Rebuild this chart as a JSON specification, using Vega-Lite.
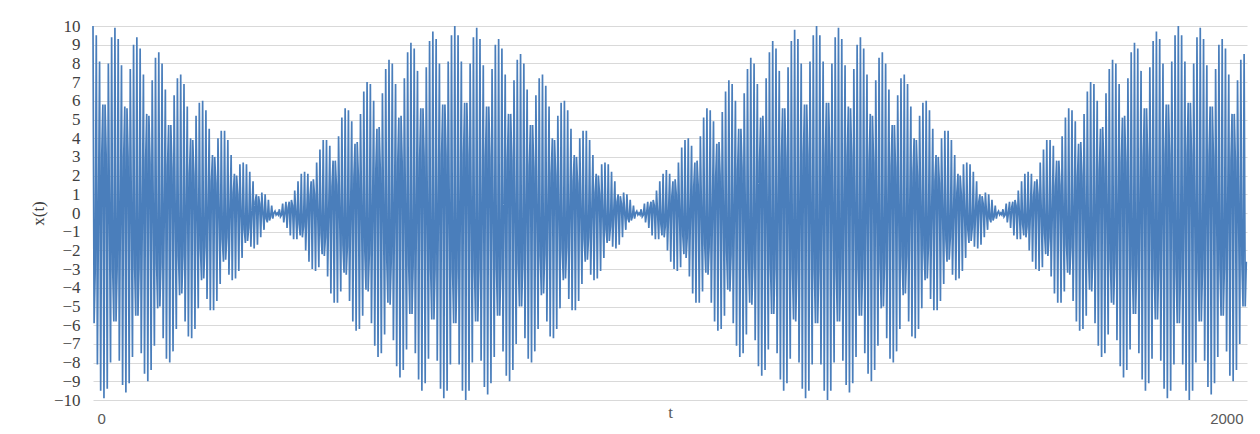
{"$schema":"https://vega.github.io/schema/vega-lite/v6.json","width":1154,"height":374,"autosize":{"type":"none"},"padding":{"left":93,"top":26,"right":13,"bottom":34},"background":"#ffffff","config":{"view":{"stroke":null}},
"data":{"values":[
{"t":0,"x":10},{"t":1.9,"x":-5.9},{"t":3.8,"x":-3.1},{"t":5.7,"x":9.5},{"t":7.6,"x":-8.1},{"t":9.5,"x":0},{"t":11.4,"x":8.1},{"t":13.3,"x":-9.5},{"t":15.2,"x":3.1},{"t":17.1,"x":5.8},{"t":19,"x":-9.9},{"t":20.9,"x":5.8},{"t":22.8,"x":3.1},{"t":24.7,"x":-9.4},{"t":26.6,"x":8},{"t":28.5,"x":0},{"t":30.4,"x":-8},{"t":32.3,"x":9.4},{"t":34.2,"x":-3.1},{"t":36.1,"x":-5.8},
{"t":38,"x":9.9},{"t":39.9,"x":-5.8},{"t":41.8,"x":-3},{"t":43.7,"x":9.3},{"t":45.6,"x":-7.9},{"t":47.5,"x":0},{"t":49.4,"x":7.9},{"t":51.3,"x":-9.2},{"t":53.2,"x":3},{"t":55.1,"x":5.7},{"t":57,"x":-9.6},{"t":58.9,"x":5.6},{"t":60.8,"x":3},{"t":62.7,"x":-9.1},{"t":64.6,"x":7.7},{"t":66.5,"x":0},{"t":68.4,"x":-7.7},{"t":70.3,"x":9},{"t":72.2,"x":-2.9},{"t":74.1,"x":-5.5},
{"t":76,"x":9.4},{"t":77.9,"x":-5.5},{"t":79.8,"x":-2.9},{"t":81.7,"x":8.8},{"t":83.6,"x":-7.5},{"t":85.5,"x":0},{"t":87.4,"x":7.4},{"t":89.3,"x":-8.6},{"t":91.2,"x":2.8},{"t":93.1,"x":5.3},{"t":95,"x":-9},{"t":96.9,"x":5.2},{"t":98.8,"x":2.7},{"t":100.7,"x":-8.4},{"t":102.6,"x":7.1},{"t":104.5,"x":0},{"t":106.4,"x":-7.1},{"t":108.3,"x":8.3},{"t":110.2,"x":-2.7},{"t":112.1,"x":-5.1},
{"t":114,"x":8.6},{"t":115.9,"x":-5},{"t":117.8,"x":-2.6},{"t":119.7,"x":8},{"t":121.6,"x":-6.7},{"t":123.5,"x":0},{"t":125.4,"x":6.6},{"t":127.3,"x":-7.8},{"t":129.2,"x":2.5},{"t":131.1,"x":4.7},{"t":133,"x":-8},{"t":134.9,"x":4.7},{"t":136.8,"x":2.4},{"t":138.7,"x":-7.4},{"t":140.6,"x":6.3},{"t":142.5,"x":0},{"t":144.4,"x":-6.2},{"t":146.3,"x":7.2},{"t":148.2,"x":-2.3},{"t":150.1,"x":-4.4},
{"t":152,"x":7.4},{"t":153.9,"x":-4.3},{"t":155.8,"x":-2.3},{"t":157.7,"x":6.9},{"t":159.6,"x":-5.8},{"t":161.5,"x":0},{"t":163.4,"x":5.7},{"t":165.3,"x":-6.6},{"t":167.2,"x":2.1},{"t":169.1,"x":4},{"t":171,"x":-6.7},{"t":172.9,"x":3.9},{"t":174.8,"x":2},{"t":176.7,"x":-6.2},{"t":178.6,"x":5.2},{"t":180.5,"x":0},{"t":182.4,"x":-5.1},{"t":184.3,"x":5.9},{"t":186.2,"x":-1.9},{"t":188.1,"x":-3.6},
{"t":190,"x":6},{"t":191.9,"x":-3.5},{"t":193.8,"x":-1.8},{"t":195.7,"x":5.5},{"t":197.6,"x":-4.6},{"t":199.5,"x":0},{"t":201.4,"x":4.5},{"t":203.3,"x":-5.2},{"t":205.2,"x":1.7},{"t":207.1,"x":3.1},{"t":209,"x":-5.2},{"t":210.9,"x":3},{"t":212.8,"x":1.6},{"t":214.7,"x":-4.7},{"t":216.6,"x":4},{"t":218.5,"x":0},{"t":220.4,"x":-3.8},{"t":222.3,"x":4.4},{"t":224.2,"x":-1.4},{"t":226.1,"x":-2.6},
{"t":228,"x":4.4},{"t":229.9,"x":-2.5},{"t":231.8,"x":-1.3},{"t":233.7,"x":3.9},{"t":235.6,"x":-3.3},{"t":237.5,"x":0},{"t":239.4,"x":3.1},{"t":241.3,"x":-3.6},{"t":243.2,"x":1.1},{"t":245.1,"x":2.1},{"t":247,"x":-3.5},{"t":248.9,"x":2},{"t":250.8,"x":1},{"t":252.7,"x":-3.1},{"t":254.6,"x":2.6},{"t":256.5,"x":0},{"t":258.4,"x":-2.4},{"t":260.3,"x":2.7},{"t":262.2,"x":-0.9},{"t":264.1,"x":-1.6},
{"t":266,"x":2.6},{"t":267.9,"x":-1.5},{"t":269.8,"x":-0.8},{"t":271.7,"x":2.2},{"t":273.6,"x":-1.8},{"t":275.5,"x":0},{"t":277.4,"x":1.7},{"t":279.3,"x":-1.9},{"t":281.2,"x":0.6},{"t":283.1,"x":1},{"t":285,"x":-1.7},{"t":286.9,"x":0.9},{"t":288.8,"x":0.5},{"t":290.7,"x":-1.3},{"t":292.6,"x":1.1},{"t":294.5,"x":0},{"t":296.4,"x":-0.9},{"t":298.3,"x":1},{"t":300.2,"x":-0.3},{"t":302.1,"x":-0.5},
{"t":304,"x":0.7},{"t":305.9,"x":-0.4},{"t":307.8,"x":-0.2},{"t":309.7,"x":0.4},{"t":311.6,"x":-0.3},{"t":313.5,"x":0},{"t":315.4,"x":0.1},{"t":317.3,"x":-0.1},{"t":319.2,"x":0},{"t":321.1,"x":-0.1},{"t":323,"x":0.2},{"t":324.9,"x":-0.2},{"t":326.8,"x":-0.1},{"t":328.7,"x":0.5},{"t":330.6,"x":-0.5},{"t":332.5,"x":0},{"t":334.4,"x":0.6},{"t":336.3,"x":-0.8},{"t":338.2,"x":0.3},{"t":340.1,"x":0.6},
{"t":342,"x":-1.2},{"t":343.9,"x":0.7},{"t":345.8,"x":0.4},{"t":347.7,"x":-1.4},{"t":349.6,"x":1.2},{"t":351.5,"x":0},{"t":353.4,"x":-1.4},{"t":355.3,"x":1.7},{"t":357.2,"x":-0.6},{"t":359.1,"x":-1.2},{"t":361,"x":2.1},{"t":362.9,"x":-1.3},{"t":364.8,"x":-0.7},{"t":366.7,"x":2.2},{"t":368.6,"x":-2},{"t":370.5,"x":0},{"t":372.4,"x":2.1},{"t":374.3,"x":-2.6},{"t":376.2,"x":0.9},{"t":378.1,"x":1.7},
{"t":380,"x":-3},{"t":381.9,"x":1.8},{"t":383.8,"x":1},{"t":385.7,"x":-3.1},{"t":387.6,"x":2.7},{"t":389.5,"x":0},{"t":391.4,"x":-2.9},{"t":393.3,"x":3.4},{"t":395.2,"x":-1.1},{"t":397.1,"x":-2.2},{"t":399,"x":3.9},{"t":400.9,"x":-2.3},{"t":402.8,"x":-1.3},{"t":404.7,"x":3.9},{"t":406.6,"x":-3.4},{"t":408.5,"x":0},{"t":410.4,"x":3.6},{"t":412.3,"x":-4.3},{"t":414.2,"x":1.4},{"t":416.1,"x":2.8},
{"t":418,"x":-4.8},{"t":419.9,"x":2.8},{"t":421.8,"x":1.5},{"t":423.7,"x":-4.8},{"t":425.6,"x":4.1},{"t":427.5,"x":0},{"t":429.4,"x":-4.2},{"t":431.3,"x":5.1},{"t":433.2,"x":-1.7},{"t":435.1,"x":-3.2},{"t":437,"x":5.6},{"t":438.9,"x":-3.3},{"t":440.8,"x":-1.8},{"t":442.7,"x":5.5},{"t":444.6,"x":-4.7},{"t":446.5,"x":0},{"t":448.4,"x":4.9},{"t":450.3,"x":-5.8},{"t":452.2,"x":1.9},{"t":454.1,"x":3.7},
{"t":456,"x":-6.3},{"t":457.9,"x":3.8},{"t":459.8,"x":2},{"t":461.7,"x":-6.2},{"t":463.6,"x":5.3},{"t":465.5,"x":0},{"t":467.4,"x":-5.5},{"t":469.3,"x":6.5},{"t":471.2,"x":-2.1},{"t":473.1,"x":-4.1},{"t":475,"x":7},{"t":476.9,"x":-4.2},{"t":478.8,"x":-2.2},{"t":480.7,"x":6.9},{"t":482.6,"x":-5.9},{"t":484.5,"x":0},{"t":486.4,"x":6},{"t":488.3,"x":-7.1},{"t":490.2,"x":2.3},{"t":492.1,"x":4.5},
{"t":494,"x":-7.7},{"t":495.9,"x":4.6},{"t":497.8,"x":2.4},{"t":499.7,"x":-7.5},{"t":501.6,"x":6.4},{"t":503.5,"x":0},{"t":505.4,"x":-6.5},{"t":507.3,"x":7.7},{"t":509.2,"x":-2.5},{"t":511.1,"x":-4.8},{"t":513,"x":8.2},{"t":514.9,"x":-4.9},{"t":516.8,"x":-2.6},{"t":518.7,"x":8},{"t":520.6,"x":-6.8},{"t":522.5,"x":0},{"t":524.4,"x":6.9},{"t":526.3,"x":-8.2},{"t":528.2,"x":2.7},{"t":530.1,"x":5.1},
{"t":532,"x":-8.8},{"t":533.9,"x":5.2},{"t":535.8,"x":2.7},{"t":537.7,"x":-8.4},{"t":539.6,"x":7.2},{"t":541.5,"x":0},{"t":543.4,"x":-7.3},{"t":545.3,"x":8.6},{"t":547.2,"x":-2.8},{"t":549.1,"x":-5.4},{"t":551,"x":9.1},{"t":552.9,"x":-5.4},{"t":554.8,"x":-2.8},{"t":556.7,"x":8.8},{"t":558.6,"x":-7.5},{"t":560.5,"x":0},{"t":562.4,"x":7.6},{"t":564.3,"x":-8.9},{"t":566.2,"x":2.9},{"t":568.1,"x":5.6},
{"t":570,"x":-9.5},{"t":571.9,"x":5.6},{"t":573.8,"x":3},{"t":575.7,"x":-9.1},{"t":577.6,"x":7.8},{"t":579.5,"x":0},{"t":581.4,"x":-7.8},{"t":583.3,"x":9.2},{"t":585.2,"x":-3},{"t":587.1,"x":-5.7},{"t":589,"x":9.7},{"t":590.9,"x":-5.7},{"t":592.8,"x":-3},{"t":594.7,"x":9.3},{"t":596.6,"x":-7.9},{"t":598.5,"x":0},{"t":600.4,"x":8},{"t":602.3,"x":-9.4},{"t":604.2,"x":3.1},{"t":606.1,"x":5.8},
{"t":608,"x":-9.9},{"t":609.9,"x":5.8},{"t":611.8,"x":3.1},{"t":613.7,"x":-9.5},{"t":615.6,"x":8.1},{"t":617.5,"x":0},{"t":619.4,"x":-8.1},{"t":621.3,"x":9.5},{"t":623.2,"x":-3.1},{"t":625.1,"x":-5.9},{"t":627,"x":10},{"t":628.9,"x":-5.9},{"t":630.8,"x":-3.1},{"t":632.7,"x":9.5},{"t":634.6,"x":-8.1},{"t":636.5,"x":0},{"t":638.4,"x":8.1},{"t":640.3,"x":-9.5},{"t":642.2,"x":3.1},{"t":644.1,"x":5.9},
{"t":646,"x":-10},{"t":647.9,"x":5.9},{"t":649.8,"x":3.1},{"t":651.7,"x":-9.5},{"t":653.6,"x":8},{"t":655.5,"x":0},{"t":657.4,"x":-8},{"t":659.3,"x":9.4},{"t":661.2,"x":-3.1},{"t":663.1,"x":-5.8},{"t":665,"x":9.9},{"t":666.9,"x":-5.8},{"t":668.8,"x":-3},{"t":670.7,"x":9.3},{"t":672.6,"x":-7.9},{"t":674.5,"x":0},{"t":676.4,"x":7.9},{"t":678.3,"x":-9.3},{"t":680.2,"x":3},{"t":682.1,"x":5.7},
{"t":684,"x":-9.7},{"t":685.9,"x":5.7},{"t":687.8,"x":3},{"t":689.7,"x":-9.1},{"t":691.6,"x":7.7},{"t":693.5,"x":0},{"t":695.4,"x":-7.7},{"t":697.3,"x":9},{"t":699.2,"x":-2.9},{"t":701.1,"x":-5.5},{"t":703,"x":9.3},{"t":704.9,"x":-5.5},{"t":706.8,"x":-2.9},{"t":708.7,"x":8.8},{"t":710.6,"x":-7.4},{"t":712.5,"x":0},{"t":714.4,"x":7.4},{"t":716.3,"x":-8.7},{"t":718.2,"x":2.8},{"t":720.1,"x":5.3},
{"t":722,"x":-9},{"t":723.9,"x":5.3},{"t":725.8,"x":2.8},{"t":727.7,"x":-8.4},{"t":729.6,"x":7.1},{"t":731.5,"x":0},{"t":733.4,"x":-7},{"t":735.3,"x":8.2},{"t":737.2,"x":-2.7},{"t":739.1,"x":-5},{"t":741,"x":8.5},{"t":742.9,"x":-5},{"t":744.8,"x":-2.6},{"t":746.7,"x":8},{"t":748.6,"x":-6.7},{"t":750.5,"x":0},{"t":752.4,"x":6.6},{"t":754.3,"x":-7.8},{"t":756.2,"x":2.5},{"t":758.1,"x":4.7},
{"t":760,"x":-8},{"t":761.9,"x":4.7},{"t":763.8,"x":2.4},{"t":765.7,"x":-7.4},{"t":767.6,"x":6.3},{"t":769.5,"x":0},{"t":771.4,"x":-6.2},{"t":773.3,"x":7.2},{"t":775.2,"x":-2.3},{"t":777.1,"x":-4.4},{"t":779,"x":7.4},{"t":780.9,"x":-4.3},{"t":782.8,"x":-2.2},{"t":784.7,"x":6.8},{"t":786.6,"x":-5.8},{"t":788.5,"x":0},{"t":790.4,"x":5.7},{"t":792.3,"x":-6.6},{"t":794.2,"x":2.1},{"t":796.1,"x":4},
{"t":798,"x":-6.7},{"t":799.9,"x":3.9},{"t":801.8,"x":2},{"t":803.7,"x":-6.2},{"t":805.6,"x":5.2},{"t":807.5,"x":0},{"t":809.4,"x":-5.1},{"t":811.3,"x":5.9},{"t":813.2,"x":-1.9},{"t":815.1,"x":-3.6},{"t":817,"x":6},{"t":818.9,"x":-3.5},{"t":820.8,"x":-1.8},{"t":822.7,"x":5.5},{"t":824.6,"x":-4.6},{"t":826.5,"x":0},{"t":828.4,"x":4.5},{"t":830.3,"x":-5.2},{"t":832.2,"x":1.7},{"t":834.1,"x":3.1},
{"t":836,"x":-5.2},{"t":837.9,"x":3},{"t":839.8,"x":1.6},{"t":841.7,"x":-4.7},{"t":843.6,"x":4},{"t":845.5,"x":0},{"t":847.4,"x":-3.8},{"t":849.3,"x":4.4},{"t":851.2,"x":-1.4},{"t":853.1,"x":-2.6},{"t":855,"x":4.4},{"t":856.9,"x":-2.5},{"t":858.8,"x":-1.3},{"t":860.7,"x":3.9},{"t":862.6,"x":-3.3},{"t":864.5,"x":0},{"t":866.4,"x":3.1},{"t":868.3,"x":-3.6},{"t":870.2,"x":1.1},{"t":872.1,"x":2.1},
{"t":874,"x":-3.5},{"t":875.9,"x":2},{"t":877.8,"x":1},{"t":879.7,"x":-3.1},{"t":881.6,"x":2.6},{"t":883.5,"x":0},{"t":885.4,"x":-2.4},{"t":887.3,"x":2.7},{"t":889.2,"x":-0.9},{"t":891.1,"x":-1.6},{"t":893,"x":2.6},{"t":894.9,"x":-1.5},{"t":896.8,"x":-0.7},{"t":898.7,"x":2.2},{"t":900.6,"x":-1.8},{"t":902.5,"x":0},{"t":904.4,"x":1.7},{"t":906.3,"x":-1.9},{"t":908.2,"x":0.6},{"t":910.1,"x":1},
{"t":912,"x":-1.7},{"t":913.9,"x":0.9},{"t":915.8,"x":0.5},{"t":917.7,"x":-1.3},{"t":919.6,"x":1.1},{"t":921.5,"x":0},{"t":923.4,"x":-0.9},{"t":925.3,"x":1},{"t":927.2,"x":-0.3},{"t":929.1,"x":-0.5},{"t":931,"x":0.7},{"t":932.9,"x":-0.4},{"t":934.8,"x":-0.2},{"t":936.7,"x":0.4},{"t":938.6,"x":-0.3},{"t":940.5,"x":0},{"t":942.4,"x":0.1},{"t":944.3,"x":-0.1},{"t":946.2,"x":0},{"t":948.1,"x":-0.1},
{"t":950,"x":0.2},{"t":951.9,"x":-0.2},{"t":953.8,"x":-0.1},{"t":955.7,"x":0.5},{"t":957.6,"x":-0.5},{"t":959.5,"x":0},{"t":961.4,"x":0.6},{"t":963.3,"x":-0.8},{"t":965.2,"x":0.3},{"t":967.1,"x":0.6},{"t":969,"x":-1.2},{"t":970.9,"x":0.7},{"t":972.8,"x":0.4},{"t":974.7,"x":-1.4},{"t":976.6,"x":1.2},{"t":978.5,"x":0},{"t":980.4,"x":-1.4},{"t":982.3,"x":1.7},{"t":984.2,"x":-0.6},{"t":986.1,"x":-1.2},
{"t":988,"x":2.1},{"t":989.9,"x":-1.3},{"t":991.8,"x":-0.7},{"t":993.7,"x":2.3},{"t":995.6,"x":-2},{"t":997.5,"x":0},{"t":999.4,"x":2.1},{"t":1001.3,"x":-2.6},{"t":1003.2,"x":0.9},{"t":1005.1,"x":1.7},{"t":1007,"x":-3},{"t":1008.9,"x":1.8},{"t":1010.8,"x":1},{"t":1012.7,"x":-3.1},{"t":1014.6,"x":2.7},{"t":1016.5,"x":0},{"t":1018.4,"x":-2.9},{"t":1020.3,"x":3.5},{"t":1022.2,"x":-1.2},{"t":1024.1,"x":-2.2},
{"t":1026,"x":3.9},{"t":1027.9,"x":-2.4},{"t":1029.8,"x":-1.3},{"t":1031.7,"x":4},{"t":1033.6,"x":-3.4},{"t":1035.5,"x":0},{"t":1037.4,"x":3.6},{"t":1039.3,"x":-4.3},{"t":1041.2,"x":1.4},{"t":1043.1,"x":2.7},{"t":1045,"x":-4.8},{"t":1046.9,"x":2.8},{"t":1048.8,"x":1.5},{"t":1050.7,"x":-4.8},{"t":1052.6,"x":4.1},{"t":1054.5,"x":0},{"t":1056.4,"x":-4.2},{"t":1058.3,"x":5.1},{"t":1060.2,"x":-1.7},{"t":1062.1,"x":-3.2},
{"t":1064,"x":5.6},{"t":1065.9,"x":-3.3},{"t":1067.8,"x":-1.8},{"t":1069.7,"x":5.5},{"t":1071.6,"x":-4.8},{"t":1073.5,"x":0},{"t":1075.4,"x":4.9},{"t":1077.3,"x":-5.8},{"t":1079.2,"x":1.9},{"t":1081.1,"x":3.7},{"t":1083,"x":-6.3},{"t":1084.9,"x":3.8},{"t":1086.8,"x":2},{"t":1088.7,"x":-6.2},{"t":1090.6,"x":5.4},{"t":1092.5,"x":0},{"t":1094.4,"x":-5.5},{"t":1096.3,"x":6.5},{"t":1098.2,"x":-2.1},{"t":1100.1,"x":-4.1},
{"t":1102,"x":7.1},{"t":1103.9,"x":-4.2},{"t":1105.8,"x":-2.2},{"t":1107.7,"x":6.9},{"t":1109.6,"x":-5.9},{"t":1111.5,"x":0},{"t":1113.4,"x":6},{"t":1115.3,"x":-7.1},{"t":1117.2,"x":2.3},{"t":1119.1,"x":4.5},{"t":1121,"x":-7.7},{"t":1122.9,"x":4.5},{"t":1124.8,"x":2.4},{"t":1126.7,"x":-7.5},{"t":1128.6,"x":6.4},{"t":1130.5,"x":0},{"t":1132.4,"x":-6.5},{"t":1134.3,"x":7.7},{"t":1136.2,"x":-2.5},{"t":1138.1,"x":-4.8},
{"t":1140,"x":8.3},{"t":1141.9,"x":-4.9},{"t":1143.8,"x":-2.6},{"t":1145.7,"x":8},{"t":1147.6,"x":-6.8},{"t":1149.5,"x":0},{"t":1151.4,"x":6.9},{"t":1153.3,"x":-8.2},{"t":1155.2,"x":2.7},{"t":1157.1,"x":5.1},{"t":1159,"x":-8.7},{"t":1160.9,"x":5.2},{"t":1162.8,"x":2.7},{"t":1164.7,"x":-8.4},{"t":1166.6,"x":7.2},{"t":1168.5,"x":0},{"t":1170.4,"x":-7.3},{"t":1172.3,"x":8.6},{"t":1174.2,"x":-2.8},{"t":1176.1,"x":-5.4},
{"t":1178,"x":9.2},{"t":1179.9,"x":-5.4},{"t":1181.8,"x":-2.9},{"t":1183.7,"x":8.8},{"t":1185.6,"x":-7.5},{"t":1187.5,"x":0},{"t":1189.4,"x":7.6},{"t":1191.3,"x":-8.9},{"t":1193.2,"x":2.9},{"t":1195.1,"x":5.6},{"t":1197,"x":-9.5},{"t":1198.9,"x":5.6},{"t":1200.8,"x":2.9},{"t":1202.7,"x":-9.1},{"t":1204.6,"x":7.8},{"t":1206.5,"x":0},{"t":1208.4,"x":-7.8},{"t":1210.3,"x":9.2},{"t":1212.2,"x":-3},{"t":1214.1,"x":-5.7},
{"t":1216,"x":9.8},{"t":1217.9,"x":-5.8},{"t":1219.8,"x":-3},{"t":1221.7,"x":9.3},{"t":1223.6,"x":-8},{"t":1225.5,"x":0},{"t":1227.4,"x":8},{"t":1229.3,"x":-9.4},{"t":1231.2,"x":3.1},{"t":1233.1,"x":5.8},{"t":1235,"x":-9.9},{"t":1236.9,"x":5.8},{"t":1238.8,"x":3.1},{"t":1240.7,"x":-9.5},{"t":1242.6,"x":8.1},{"t":1244.5,"x":0},{"t":1246.4,"x":-8.1},{"t":1248.3,"x":9.5},{"t":1250.2,"x":-3.1},{"t":1252.1,"x":-5.9},
{"t":1254,"x":10},{"t":1255.9,"x":-5.9},{"t":1257.8,"x":-3.1},{"t":1259.7,"x":9.5},{"t":1261.6,"x":-8.1},{"t":1263.5,"x":0},{"t":1265.4,"x":8.1},{"t":1267.3,"x":-9.5},{"t":1269.2,"x":3.1},{"t":1271.1,"x":5.9},{"t":1273,"x":-10},{"t":1274.9,"x":5.9},{"t":1276.8,"x":3.1},{"t":1278.7,"x":-9.5},{"t":1280.6,"x":8},{"t":1282.5,"x":0},{"t":1284.4,"x":-8},{"t":1286.3,"x":9.4},{"t":1288.2,"x":-3.1},{"t":1290.1,"x":-5.8},
{"t":1292,"x":9.9},{"t":1293.9,"x":-5.8},{"t":1295.8,"x":-3},{"t":1297.7,"x":9.3},{"t":1299.6,"x":-7.9},{"t":1301.5,"x":0},{"t":1303.4,"x":7.9},{"t":1305.3,"x":-9.2},{"t":1307.2,"x":3},{"t":1309.1,"x":5.7},{"t":1311,"x":-9.6},{"t":1312.9,"x":5.6},{"t":1314.8,"x":3},{"t":1316.7,"x":-9.1},{"t":1318.6,"x":7.7},{"t":1320.5,"x":0},{"t":1322.4,"x":-7.7},{"t":1324.3,"x":9},{"t":1326.2,"x":-2.9},{"t":1328.1,"x":-5.5},
{"t":1330,"x":9.4},{"t":1331.9,"x":-5.5},{"t":1333.8,"x":-2.9},{"t":1335.7,"x":8.8},{"t":1337.6,"x":-7.5},{"t":1339.5,"x":0},{"t":1341.4,"x":7.4},{"t":1343.3,"x":-8.6},{"t":1345.2,"x":2.8},{"t":1347.1,"x":5.3},{"t":1349,"x":-9},{"t":1350.9,"x":5.2},{"t":1352.8,"x":2.7},{"t":1354.7,"x":-8.4},{"t":1356.6,"x":7.1},{"t":1358.5,"x":0},{"t":1360.4,"x":-7.1},{"t":1362.3,"x":8.3},{"t":1364.2,"x":-2.7},{"t":1366.1,"x":-5.1},
{"t":1368,"x":8.6},{"t":1369.9,"x":-5},{"t":1371.8,"x":-2.6},{"t":1373.7,"x":8},{"t":1375.6,"x":-6.7},{"t":1377.5,"x":0},{"t":1379.4,"x":6.6},{"t":1381.3,"x":-7.8},{"t":1383.2,"x":2.5},{"t":1385.1,"x":4.7},{"t":1387,"x":-8},{"t":1388.9,"x":4.7},{"t":1390.8,"x":2.4},{"t":1392.7,"x":-7.4},{"t":1394.6,"x":6.3},{"t":1396.5,"x":0},{"t":1398.4,"x":-6.2},{"t":1400.3,"x":7.2},{"t":1402.2,"x":-2.3},{"t":1404.1,"x":-4.4},
{"t":1406,"x":7.4},{"t":1407.9,"x":-4.3},{"t":1409.8,"x":-2.3},{"t":1411.7,"x":6.9},{"t":1413.6,"x":-5.8},{"t":1415.5,"x":0},{"t":1417.4,"x":5.7},{"t":1419.3,"x":-6.6},{"t":1421.2,"x":2.1},{"t":1423.1,"x":4},{"t":1425,"x":-6.7},{"t":1426.9,"x":3.9},{"t":1428.8,"x":2},{"t":1430.7,"x":-6.2},{"t":1432.6,"x":5.2},{"t":1434.5,"x":0},{"t":1436.4,"x":-5.1},{"t":1438.3,"x":5.9},{"t":1440.2,"x":-1.9},{"t":1442.1,"x":-3.6},
{"t":1444,"x":6},{"t":1445.9,"x":-3.5},{"t":1447.8,"x":-1.8},{"t":1449.7,"x":5.5},{"t":1451.6,"x":-4.6},{"t":1453.5,"x":0},{"t":1455.4,"x":4.5},{"t":1457.3,"x":-5.2},{"t":1459.2,"x":1.7},{"t":1461.1,"x":3.1},{"t":1463,"x":-5.2},{"t":1464.9,"x":3},{"t":1466.8,"x":1.6},{"t":1468.7,"x":-4.7},{"t":1470.6,"x":4},{"t":1472.5,"x":0},{"t":1474.4,"x":-3.8},{"t":1476.3,"x":4.4},{"t":1478.2,"x":-1.4},{"t":1480.1,"x":-2.6},
{"t":1482,"x":4.4},{"t":1483.9,"x":-2.5},{"t":1485.8,"x":-1.3},{"t":1487.7,"x":3.9},{"t":1489.6,"x":-3.3},{"t":1491.5,"x":0},{"t":1493.4,"x":3.1},{"t":1495.3,"x":-3.6},{"t":1497.2,"x":1.1},{"t":1499.1,"x":2.1},{"t":1501,"x":-3.5},{"t":1502.9,"x":2},{"t":1504.8,"x":1},{"t":1506.7,"x":-3.1},{"t":1508.6,"x":2.6},{"t":1510.5,"x":0},{"t":1512.4,"x":-2.4},{"t":1514.3,"x":2.7},{"t":1516.2,"x":-0.9},{"t":1518.1,"x":-1.6},
{"t":1520,"x":2.6},{"t":1521.9,"x":-1.5},{"t":1523.8,"x":-0.8},{"t":1525.7,"x":2.2},{"t":1527.6,"x":-1.8},{"t":1529.5,"x":0},{"t":1531.4,"x":1.7},{"t":1533.3,"x":-1.9},{"t":1535.2,"x":0.6},{"t":1537.1,"x":1},{"t":1539,"x":-1.7},{"t":1540.9,"x":0.9},{"t":1542.8,"x":0.5},{"t":1544.7,"x":-1.3},{"t":1546.6,"x":1.1},{"t":1548.5,"x":0},{"t":1550.4,"x":-0.9},{"t":1552.3,"x":1},{"t":1554.2,"x":-0.3},{"t":1556.1,"x":-0.5},
{"t":1558,"x":0.7},{"t":1559.9,"x":-0.4},{"t":1561.8,"x":-0.2},{"t":1563.7,"x":0.4},{"t":1565.6,"x":-0.3},{"t":1567.5,"x":0},{"t":1569.4,"x":0.1},{"t":1571.3,"x":-0.1},{"t":1573.2,"x":0},{"t":1575.1,"x":-0.1},{"t":1577,"x":0.2},{"t":1578.9,"x":-0.2},{"t":1580.8,"x":-0.1},{"t":1582.7,"x":0.5},{"t":1584.6,"x":-0.5},{"t":1586.5,"x":0},{"t":1588.4,"x":0.6},{"t":1590.3,"x":-0.8},{"t":1592.2,"x":0.3},{"t":1594.1,"x":0.6},
{"t":1596,"x":-1.2},{"t":1597.9,"x":0.7},{"t":1599.8,"x":0.4},{"t":1601.7,"x":-1.4},{"t":1603.6,"x":1.2},{"t":1605.5,"x":0},{"t":1607.4,"x":-1.4},{"t":1609.3,"x":1.7},{"t":1611.2,"x":-0.6},{"t":1613.1,"x":-1.2},{"t":1615,"x":2.1},{"t":1616.9,"x":-1.3},{"t":1618.8,"x":-0.7},{"t":1620.7,"x":2.2},{"t":1622.6,"x":-2},{"t":1624.5,"x":0},{"t":1626.4,"x":2.1},{"t":1628.3,"x":-2.6},{"t":1630.2,"x":0.9},{"t":1632.1,"x":1.7},
{"t":1634,"x":-3},{"t":1635.9,"x":1.8},{"t":1637.8,"x":1},{"t":1639.7,"x":-3.1},{"t":1641.6,"x":2.7},{"t":1643.5,"x":0},{"t":1645.4,"x":-2.9},{"t":1647.3,"x":3.4},{"t":1649.2,"x":-1.1},{"t":1651.1,"x":-2.2},{"t":1653,"x":3.9},{"t":1654.9,"x":-2.3},{"t":1656.8,"x":-1.3},{"t":1658.7,"x":3.9},{"t":1660.6,"x":-3.4},{"t":1662.5,"x":0},{"t":1664.4,"x":3.6},{"t":1666.3,"x":-4.3},{"t":1668.2,"x":1.4},{"t":1670.1,"x":2.8},
{"t":1672,"x":-4.8},{"t":1673.9,"x":2.8},{"t":1675.8,"x":1.5},{"t":1677.7,"x":-4.8},{"t":1679.6,"x":4.1},{"t":1681.5,"x":0},{"t":1683.4,"x":-4.2},{"t":1685.3,"x":5.1},{"t":1687.2,"x":-1.7},{"t":1689.1,"x":-3.2},{"t":1691,"x":5.6},{"t":1692.9,"x":-3.3},{"t":1694.8,"x":-1.8},{"t":1696.7,"x":5.5},{"t":1698.6,"x":-4.7},{"t":1700.5,"x":0},{"t":1702.4,"x":4.9},{"t":1704.3,"x":-5.8},{"t":1706.2,"x":1.9},{"t":1708.1,"x":3.7},
{"t":1710,"x":-6.3},{"t":1711.9,"x":3.8},{"t":1713.8,"x":2},{"t":1715.7,"x":-6.2},{"t":1717.6,"x":5.3},{"t":1719.5,"x":0},{"t":1721.4,"x":-5.5},{"t":1723.3,"x":6.5},{"t":1725.2,"x":-2.1},{"t":1727.1,"x":-4.1},{"t":1729,"x":7},{"t":1730.9,"x":-4.2},{"t":1732.8,"x":-2.2},{"t":1734.7,"x":6.9},{"t":1736.6,"x":-5.9},{"t":1738.5,"x":0},{"t":1740.4,"x":6},{"t":1742.3,"x":-7.1},{"t":1744.2,"x":2.3},{"t":1746.1,"x":4.5},
{"t":1748,"x":-7.7},{"t":1749.9,"x":4.6},{"t":1751.8,"x":2.4},{"t":1753.7,"x":-7.5},{"t":1755.6,"x":6.4},{"t":1757.5,"x":0},{"t":1759.4,"x":-6.5},{"t":1761.3,"x":7.7},{"t":1763.2,"x":-2.5},{"t":1765.1,"x":-4.8},{"t":1767,"x":8.2},{"t":1768.9,"x":-4.9},{"t":1770.8,"x":-2.6},{"t":1772.7,"x":8},{"t":1774.6,"x":-6.8},{"t":1776.5,"x":0},{"t":1778.4,"x":6.9},{"t":1780.3,"x":-8.2},{"t":1782.2,"x":2.7},{"t":1784.1,"x":5.1},
{"t":1786,"x":-8.8},{"t":1787.9,"x":5.2},{"t":1789.8,"x":2.7},{"t":1791.7,"x":-8.4},{"t":1793.6,"x":7.2},{"t":1795.5,"x":0},{"t":1797.4,"x":-7.3},{"t":1799.3,"x":8.6},{"t":1801.2,"x":-2.8},{"t":1803.1,"x":-5.4},{"t":1805,"x":9.1},{"t":1806.9,"x":-5.4},{"t":1808.8,"x":-2.8},{"t":1810.7,"x":8.8},{"t":1812.6,"x":-7.5},{"t":1814.5,"x":0},{"t":1816.4,"x":7.6},{"t":1818.3,"x":-8.9},{"t":1820.2,"x":2.9},{"t":1822.1,"x":5.6},
{"t":1824,"x":-9.5},{"t":1825.9,"x":5.6},{"t":1827.8,"x":3},{"t":1829.7,"x":-9.1},{"t":1831.6,"x":7.8},{"t":1833.5,"x":0},{"t":1835.4,"x":-7.8},{"t":1837.3,"x":9.2},{"t":1839.2,"x":-3},{"t":1841.1,"x":-5.7},{"t":1843,"x":9.7},{"t":1844.9,"x":-5.7},{"t":1846.8,"x":-3},{"t":1848.7,"x":9.3},{"t":1850.6,"x":-7.9},{"t":1852.5,"x":0},{"t":1854.4,"x":8},{"t":1856.3,"x":-9.4},{"t":1858.2,"x":3.1},{"t":1860.1,"x":5.8},
{"t":1862,"x":-9.9},{"t":1863.9,"x":5.8},{"t":1865.8,"x":3.1},{"t":1867.7,"x":-9.5},{"t":1869.6,"x":8.1},{"t":1871.5,"x":0},{"t":1873.4,"x":-8.1},{"t":1875.3,"x":9.5},{"t":1877.2,"x":-3.1},{"t":1879.1,"x":-5.9},{"t":1881,"x":10},{"t":1882.9,"x":-5.9},{"t":1884.8,"x":-3.1},{"t":1886.7,"x":9.5},{"t":1888.6,"x":-8.1},{"t":1890.5,"x":0},{"t":1892.4,"x":8.1},{"t":1894.3,"x":-9.5},{"t":1896.2,"x":3.1},{"t":1898.1,"x":5.9},
{"t":1900,"x":-10},{"t":1901.9,"x":5.9},{"t":1903.8,"x":3.1},{"t":1905.7,"x":-9.5},{"t":1907.6,"x":8},{"t":1909.5,"x":0},{"t":1911.4,"x":-8},{"t":1913.3,"x":9.4},{"t":1915.2,"x":-3.1},{"t":1917.1,"x":-5.8},{"t":1919,"x":9.9},{"t":1920.9,"x":-5.8},{"t":1922.8,"x":-3},{"t":1924.7,"x":9.3},{"t":1926.6,"x":-7.9},{"t":1928.5,"x":0},{"t":1930.4,"x":7.9},{"t":1932.3,"x":-9.3},{"t":1934.2,"x":3},{"t":1936.1,"x":5.7},
{"t":1938,"x":-9.7},{"t":1939.9,"x":5.7},{"t":1941.8,"x":3},{"t":1943.7,"x":-9.1},{"t":1945.6,"x":7.7},{"t":1947.5,"x":0},{"t":1949.4,"x":-7.7},{"t":1951.3,"x":9},{"t":1953.2,"x":-2.9},{"t":1955.1,"x":-5.5},{"t":1957,"x":9.3},{"t":1958.9,"x":-5.5},{"t":1960.8,"x":-2.9},{"t":1962.7,"x":8.8},{"t":1964.6,"x":-7.4},{"t":1966.5,"x":0},{"t":1968.4,"x":7.4},{"t":1970.3,"x":-8.7},{"t":1972.2,"x":2.8},{"t":1974.1,"x":5.3},
{"t":1976,"x":-9},{"t":1977.9,"x":5.3},{"t":1979.8,"x":2.8},{"t":1981.7,"x":-8.4},{"t":1983.6,"x":7.1},{"t":1985.5,"x":0},{"t":1987.4,"x":-7},{"t":1989.3,"x":8.2},{"t":1991.2,"x":-2.7},{"t":1993.1,"x":-5},{"t":1995,"x":8.5},{"t":1996.9,"x":-5},{"t":1998.8,"x":-2.6}
]},
"mark":{"type":"line","color":"#4A7EBB","strokeWidth":1.7},
"encoding":{
"x":{"field":"t","type":"quantitative","scale":{"domain":[0,2000],"nice":false,"zero":false},"axis":{"values":[0,2000],"format":"d","title":"t","grid":false,"domain":false,"ticks":false,"labelFlush":true,"labelFlushOffset":-4,"labelFont":"Liberation Sans Narrow, Liberation Sans, sans-serif","labelFontSize":15,"labelColor":"#595959","labelPadding":11,"titleFont":"Liberation Serif","titleFontSize":17,"titleFontWeight":"normal","titleColor":"#595959","titleY":17,"titleBaseline":"alphabetic"}},
"y":{"field":"x","type":"quantitative","scale":{"domain":[-10,10],"nice":false},"axis":{"values":[-10,-9,-8,-7,-6,-5,-4,-3,-2,-1,0,1,2,3,4,5,6,7,8,9,10],"title":"x(t)","grid":true,"gridColor":"#D9D9D9","gridWidth":1,"domain":false,"ticks":false,"labelOverlap":false,"labelBound":false,"labelFont":"Liberation Serif","labelFontSize":17,"labelColor":"#404040","labelPadding":13,"titleFont":"Liberation Serif","titleFontSize":17,"titleFontWeight":"normal","titleColor":"#404040","titleX":-55,"titleY":187,"titleBaseline":"middle","titleAngle":270}}
}}
